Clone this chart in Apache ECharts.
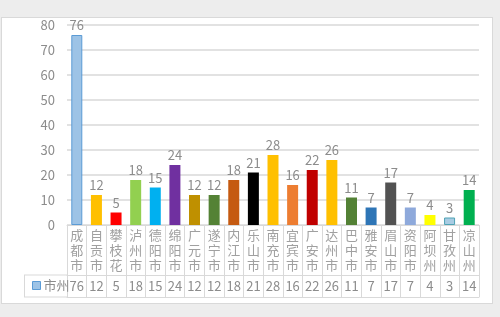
<!DOCTYPE html>
<html>
<head>
<meta charset="utf-8">
<script src="https://cdn.jsdelivr.net/npm/echarts@6/dist/echarts.min.js"></script>
<style>
  html, body { margin: 0; padding: 0; background: #ededed; }
  #frame { position: absolute; left: 1px; top: 17px; width: 490px; height: 285px; background: #fff; border: 1px solid #d9d9d9; }
  #chart { position: absolute; left: 0; top: 0; width: 500px; height: 317px; }
</style>
</head>
<body>
<div id="frame"></div>
<div id="chart"></div>
<script>
// 四川各市州数量
const cities = ['成都市', '自贡市', '攀枝花', '泸州市', '德阳市', '绵阳市', '广元市', '遂宁市', '内江市', '乐山市', '南充市',
  '宜宾市', '广安市', '达州市', '巴中市', '雅安市', '眉山市', '资阳市', '阿坝州', '甘孜州', '凉山州']
const values = [76, 12, 5, 18, 15, 24, 12, 12, 18, 21, 28, 16, 22, 26, 11, 7, 17, 7, 4, 3, 14]
const barColors = ['#9dc3e6', '#ffc000', '#ff0000', '#92d050', '#00b0f0', '#7030a0', '#bf9000', '#548235', '#c55a11', '#000000',
  '#ffc000', '#ed7d31', '#c00000', '#ffc000', '#538135', '#2e75b6', '#525252', '#8ea9db', '#ffff00', '#a9cce3', '#00b050']
const yTicks = { min: 0, max: 80, interval: 10 }

const gray = '#8c8c8c'
const lineColor = '#d9d9d9'
const font = '"Noto Sans CJK SC", sans-serif'

const chart = echarts.init(document.getElementById('chart'))
chart.setOption({
  animation: false,
  textStyle: { fontFamily: font },
  grid: { left: 67, right: 21, top: 25, bottom: 92 },
  legend: {
    data: [{ name: '市州', itemStyle: { color: '#9dc3e6', borderColor: '#5b9bd5', borderWidth: 1 } }],
    left: 27, top: 274, itemWidth: 8, itemHeight: 8, itemGap: 4,
    icon: 'rect',
    textStyle: { color: gray, fontSize: 13, padding: [0, 0, 0, -2] }
  },
  xAxis: [
    {
      type: 'category',
      data: cities,
      axisLine: { lineStyle: { color: lineColor } },
      axisTick: { show: true, length: 72, lineStyle: { color: lineColor } },
      axisLabel: {
        interval: 0, margin: 3, color: '#a0a0a0', fontSize: 13, lineHeight: 15,
        formatter: v => v.split('').join('\n')
      }
    },
    {
      type: 'category',
      data: cities,
      position: 'bottom',
      offset: 50,
      axisLine: { lineStyle: { color: lineColor } },
      axisTick: { show: false },
      axisLabel: { interval: 0, margin: 5, color: gray, fontSize: 13, formatter: (v, i) => values[i] }
    },
    {
      type: 'category',
      data: cities,
      position: 'bottom',
      offset: 72,
      axisLine: { lineStyle: { color: lineColor } },
      axisTick: { show: false },
      axisLabel: { show: false }
    }
  ],
  yAxis: {
    type: 'value',
    ...yTicks,
    axisLine: { show: false },
    axisTick: { show: false },
    axisLabel: { color: gray, fontSize: 13, margin: 12 },
    splitLine: { lineStyle: { color: lineColor, width: 1.5 } }
  },
  graphic: [
    { type: 'line', shape: { x1: 24, y1: 275, x2: 67, y2: 275 }, style: { stroke: lineColor } },
    { type: 'line', shape: { x1: 24, y1: 297, x2: 67, y2: 297 }, style: { stroke: lineColor } },
    { type: 'line', shape: { x1: 24.5, y1: 275, x2: 24.5, y2: 297 }, style: { stroke: lineColor } }
  ],
  series: [{
    name: '市州',
    type: 'bar',
    barWidth: 11,
    data: values.map((v, i) => ({
      value: v,
      itemStyle: {
        color: barColors[i],
        borderColor: i === 0 ? '#5b9bd5' : (i === 19 ? '#4fa3b5' : barColors[i]),
        borderWidth: i === 0 || i === 19 ? 1 : 0
      }
    })),
    label: { show: true, position: 'top', distance: 3, color: gray, fontSize: 13 }
  }]
})
</script>
</body>
</html>
